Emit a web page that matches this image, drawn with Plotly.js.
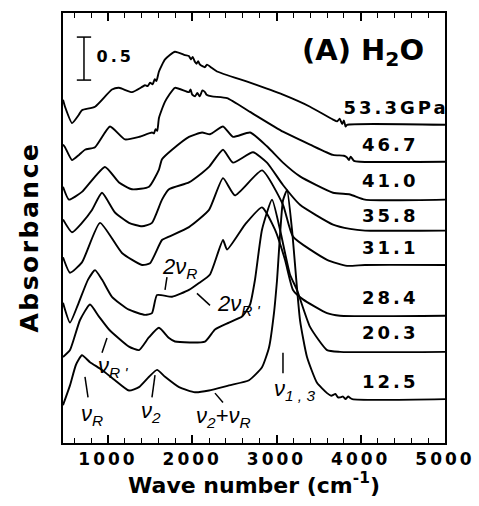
<!DOCTYPE html>
<html><head><meta charset="utf-8">
<script src="https://cdn.plot.ly/plotly-3.0.1.min.js"></script>
<style>
html,body{margin:0;padding:0;background:#fff}
#chart g.xtick text{letter-spacing:3px}
#chart g.annotation[data-index="0"] text,
#chart g.annotation[data-index="1"] text,
#chart g.annotation[data-index="2"] text,
#chart g.annotation[data-index="3"] text,
#chart g.annotation[data-index="4"] text,
#chart g.annotation[data-index="5"] text,
#chart g.annotation[data-index="6"] text,
#chart g.annotation[data-index="7"] text{letter-spacing:3px}
#chart g.annotation[data-index="16"] text{letter-spacing:3px}
#chart g.annotation[data-index="17"] text{letter-spacing:2.5px}
</style>
</head><body><div id="chart" style="width:479px;height:506px"></div>
<script>
// Pressure labels (GPa) and vertical offsets of the stacked spectra
const pressures = ['53.3GPa','46.7','41.0','35.8','31.1','28.4','20.3','12.5'];
const offsets = [3.70, 3.27, 2.83, 2.47, 2.07, 1.48, 1.06, 0.51];

// Wave numbers (cm-1) and absorbance for each spectrum
const wn_533 = [466,490,573,656,691,846,1047,1131,1285,1404,1440,1470,1500,1530,1555,1575,1605,1677,1795,1914,1960,1985,2005,2033,2050,2070,2092,2150,2175,2234,2294,2686,3077,3398,3671,3720,3750,3780,3800,3820,3837,5000];
const ab_533 = [0.29,0.21,0.02,0.12,0.17,0.21,0.41,0.43,0.38,0.44,0.46,0.45,0.49,0.47,0.53,0.51,0.62,0.76,0.85,0.81,0.80,0.76,0.79,0.73,0.71,0.74,0.70,0.67,0.70,0.66,0.62,0.49,0.35,0.21,0.06,0.04,0.07,0.01,0.05,-0.02,0.0,0.0];

const wn_467 = [466,490,573,656,727,846,1024,1202,1368,1522,1545,1565,1585,1605,1677,1795,1961,1980,2000,2033,2060,2090,2120,2151,2170,2234,2413,2686,3077,3398,3671,3800,3837,3860,3880,3920,3991,5000];
const ab_467 = [0.20,0.17,0.02,0.08,0.14,0.17,0.41,0.26,0.29,0.34,0.33,0.38,0.36,0.51,0.70,0.86,0.81,0.84,0.78,0.76,0.80,0.76,0.83,0.81,0.78,0.76,0.74,0.58,0.35,0.20,0.08,0.07,0.05,0.02,0.06,0.01,0,0];

const wn_410 = [466,537,691,964,1131,1285,1487,1605,1641,1760,1961,2116,2211,2365,2484,2686,2887,3077,3279,3671,3873,4051,5000];
const ab_410 = [0.15,0,0.09,0.38,0.20,0.12,0.15,0.35,0.47,0.58,0.73,0.78,0.76,0.85,0.73,0.78,0.62,0.43,0.27,0.08,0.06,0,0];

const wn_358 = [466,573,691,810,929,1083,1249,1404,1522,1641,1724,1961,2116,2199,2365,2484,2721,2887,3077,3279,3671,3873,4051,5000];
const ab_358 = [0.13,-0.02,0.09,0.24,0.44,0.21,0.09,0.05,0.09,0.36,0.48,0.56,0.67,0.74,0.94,0.79,0.91,0.79,0.53,0.30,0.07,0.02,0,0];

const wn_311 = [466,549,691,905,1166,1404,1499,1641,1724,1961,2199,2365,2507,2828,3077,3196,3600,3837,4051,5000];
const ab_311 = [0.09,-0.09,0.03,0.49,0.14,0,0.02,0.29,0.33,0.44,0.64,1.01,0.81,1.10,0.70,0.33,0.06,-0.01,0,0];

const wn_284 = [466,549,644,763,846,929,1047,1249,1439,1522,1582,1760,1961,2080,2211,2365,2413,2626,2828,2982,3101,3196,3314,3600,3754,5000];
const ab_284 = [0.15,-0.08,0.13,0.42,0.53,0.42,0.22,0.07,0.01,0.03,0.24,0.22,0.30,0.38,0.48,0.88,0.77,1.06,1.26,1.00,0.65,0.30,0.19,0.03,0,0];

const wn_203 = [466,549,668,786,893,1012,1249,1368,1487,1605,1724,1795,2151,2270,2436,2591,2686,2745,2828,2947,3042,3160,3243,3398,3600,3754,5000];
const ab_203 = [-0.06,0.02,0.37,0.55,0.41,0.26,0.06,0.02,0.17,0.28,0.16,0.12,0.12,0.26,0.34,0.41,0.55,0.84,1.42,1.77,1.42,0.90,0.72,0.29,0.02,0,0];

const wn_125 = [466,549,620,691,786,929,1083,1249,1368,1487,1582,1677,1843,2033,2199,2436,2674,2828,2911,2970,3006,3077,3125,3184,3279,3362,3481,3600,3650,3700,3730,3754,3790,3820,3850,3900,5000];
const ab_125 = [-0.07,0.16,0.40,0.51,0.43,0.34,0.22,0.10,0.14,0.26,0.34,0.26,0.14,0.08,0.10,0.16,0.22,0.37,0.60,1.00,1.38,2.31,2.43,1.97,0.92,0.49,0.19,0.07,0.04,0.06,0.02,0.02,0.03,0.0,0.03,0,0];

const wnSets = [wn_533, wn_467, wn_410, wn_358, wn_311, wn_284, wn_203, wn_125];
const abSets = [ab_533, ab_467, ab_410, ab_358, ab_311, ab_284, ab_203, ab_125];

// Axis ticks
const xTicks = [1000, 2000, 3000, 4000, 5000];
const xTickText = ['1000', '2000', '3000', '4000', '5000'];

const traces = wnSets.map((wn, i) => ({
  type: 'scatter', mode: 'lines',
  x: wn, y: abSets[i].map(v => v + offsets[i]),
  line: {color: '#000', width: 1.9, shape: 'spline', smoothing: 0.5},
  hoverinfo: 'skip', showlegend: false
}));

const pLabelX = [3896, 4062, 4062, 4062, 4062, 4062, 4062, 4062];
const pLabelY = [3.90, 3.47, 3.05, 2.65, 2.27, 1.69, 1.28, 0.72];
const annFont = {family: 'DejaVu Sans', size: 18, color: '#000', weight: 'bold'};
const annotations = pressures.map((p, i) => ({
  x: pLabelX[i], y: pLabelY[i], xref: 'x', yref: 'y', text: p, showarrow: false,
  xanchor: 'left', yanchor: 'middle', font: annFont
}));

const nuFont = {family: 'Liberation Sans', size: 22, color: '#000', style: 'italic'};
const peakLabels = [
  {x: 1617, y: 2.03, text: '2ν<sub>R</sub>'},
  {x: 2270, y: 1.60, text: '2ν<sub>R \'</sub>'},
  {x: 858, y: 0.88, text: 'ν<sub>R \'</sub>'},
  {x: 656, y: 0.33, text: 'ν<sub>R</sub>'},
  {x: 1368, y: 0.36, text: 'ν<sub>2</sub>'},
  {x: 2021, y: 0.30, text: 'ν<sub>2</sub>+ν<sub>R</sub>'},
  {x: 2950, y: 0.62, text: 'ν<sub>1 , 3</sub>'}
];
peakLabels.forEach(l => annotations.push({
  x: l.x, y: l.y, xref: 'x', yref: 'y', text: l.text, showarrow: false,
  xanchor: 'left', yanchor: 'middle', font: nuFont
}));

annotations.push({
  x: 3279, y: 4.55, xref: 'x', yref: 'y', text: '(A) H<sub>2</sub>O', showarrow: false,
  xanchor: 'left', yanchor: 'middle',
  font: {family: 'DejaVu Sans', size: 29, color: '#000', weight: 'bold'}
});
annotations.push({
  x: 890, y: 4.50, xref: 'x', yref: 'y', text: '0.5', showarrow: false,
  xanchor: 'left', yanchor: 'middle',
  font: {family: 'DejaVu Sans', size: 16, color: '#000', weight: 'bold'}
});
// y-axis title, placed where the reference has it
annotations.push({
  x: -0.089, y: 0.479, xref: 'paper', yref: 'paper', text: 'Absorbance', showarrow: false,
  textangle: -90, xanchor: 'center', yanchor: 'middle',
  font: {family: 'DejaVu Sans', size: 25, color: '#000', weight: 'bold'}
});

const ln = {color: '#000', width: 1.5};
const seg = (x0, y0, x1, y1) => ({type: 'line', xref: 'x', yref: 'y', x0, y0, x1, y1, line: ln});
const shapes = [
  // 0.5 scale bar
  seg(715, 4.72, 715, 4.22), seg(630, 4.72, 800, 4.72), seg(630, 4.22, 800, 4.22),
  // peak pointer ticks
  seg(1700, 1.93, 1677, 1.78),
  seg(2056, 1.74, 2211, 1.60),
  seg(988, 1.22, 929, 1.05),
  seg(727, 0.77, 763, 0.53),
  seg(1558, 0.79, 1522, 0.53),
  seg(2270, 0.58, 2365, 0.47),
  seg(3077, 1.05, 3077, 0.81)
];

const layout = {
  width: 479, height: 506,
  margin: {l: 63, r: 34, t: 13, b: 63},
  paper_bgcolor: '#fff', plot_bgcolor: '#fff',
  font: {family: 'DejaVu Sans', color: '#000', size: 14},
  xaxis: {
    range: [466, 5000], tickvals: xTicks, ticktext: xTickText,
    ticks: 'inside', ticklen: 8, tickwidth: 1.5, tickcolor: '#000',
    showline: true, linewidth: 2, linecolor: '#000', mirror: 'ticks',
    showgrid: false, zeroline: false,
    minor: {dtick: 200, tick0: 0, ticks: 'inside', ticklen: 5, tickwidth: 1.2, tickcolor: '#000', showgrid: false},
    tickfont: {family: 'DejaVu Sans', size: 17, weight: 'bold', color: '#000'},
    title: {text: 'Wave number (cm<sup>-1</sup>)', standoff: 6,
      font: {family: 'DejaVu Sans', size: 22, weight: 'bold', color: '#000'}}
  },
  yaxis: {
    range: [0, 5.0], showticklabels: false, ticks: '',
    showline: true, linewidth: 2, linecolor: '#000', mirror: true,
    showgrid: false, zeroline: false
  },
  annotations, shapes
};

Plotly.newPlot('chart', traces, layout, {displayModeBar: false});
</script></body></html>
